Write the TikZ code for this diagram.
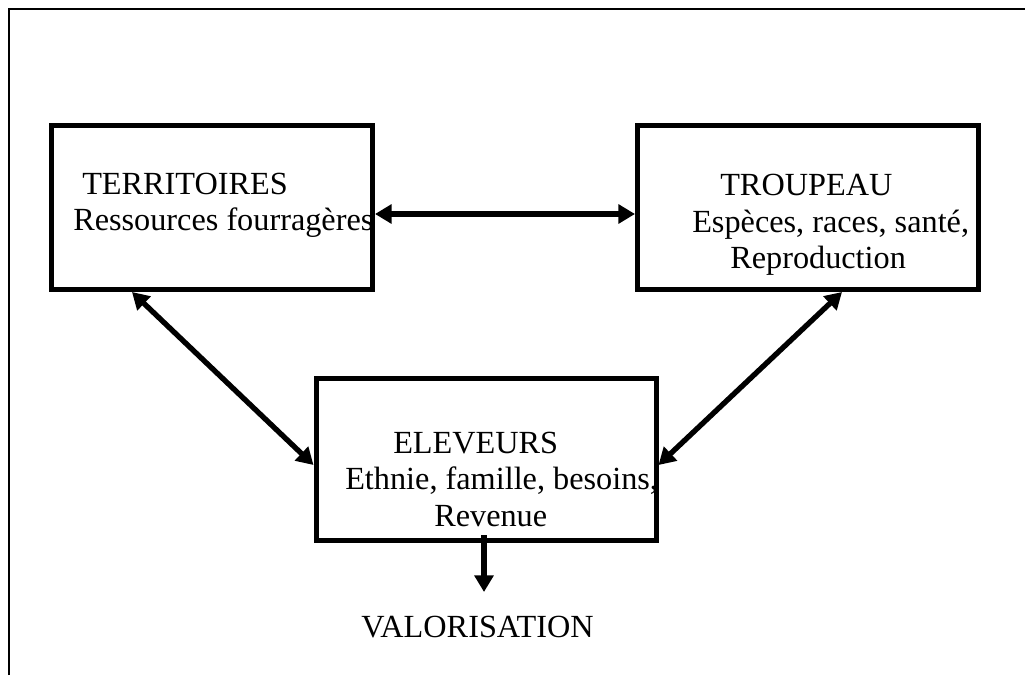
\documentclass[tikz,border=0pt]{standalone}
\usepackage{fontspec}
\setmainfont{Liberation Serif}
\usetikzlibrary{arrows.meta,calc}
\begin{document}
\begin{tikzpicture}[x=0.75pt,y=-0.75pt,
  box/.style={draw,line width=3.75pt,rectangle,inner sep=0pt},
  lbl/.style={anchor=base west,inner sep=0pt,font=\fontsize{24.2}{29}\selectfont},
  link/.style={line width=4pt,-{Triangle[length=12.5pt,width=14pt]}},
  dlink/.style={line width=4pt,{Triangle[length=12.5pt,width=14pt]}-{Triangle[length=12.5pt,width=14pt]}}]
\useasboundingbox (0,0) rectangle (1025,675);
% frame
\draw[line width=1.2pt] (9,675) -- (9,9) -- (1025,9);
% boxes
\node[box,minimum width=240.75pt,minimum height=123pt] (terr) at (212,207.5) {};
\node[box,minimum width=255.75pt,minimum height=123pt] (troup) at (808,207.5) {};
\node[box,minimum width=255pt,minimum height=121.5pt] (elev) at (486,459.5) {};
% texts
\node[lbl] (ta) at (82,194) {TERRITOIRES};
\node[lbl] (tb) at (73,230) {Ressources fourragères};
\node[lbl] (ra) at (720,195) {TROUPEAU};
\node[lbl] (rb) at (692,232) {Espèces, races, santé,};
\node[lbl] (rc) at (730,268) {Reproduction};
\node[lbl] (ea) at (393,453) {ELEVEURS};
\node[lbl] (eb) at (345,489) {Ethnie, famille, besoins,};
\node[lbl] (ec) at (434,526) {Revenue};
\node[lbl] (val) at (361,637) {VALORISATION};
% connectors
\draw[dlink] ($(terr.east)+(0,6.5)$) -- ($(troup.west)+(0,6.5)$);
\draw[dlink] ($(terr.south west)+(83,0)$) -- ($(elev.west)+(0,5.5)$);
\draw[dlink] ($(troup.south west)+(207,0)$) -- ($(elev.east)+(0,5.5)$);
\coordinate (vtip) at (484,592);
\draw[link] ($(elev.south)+(-2,-8)$) -- (vtip);
\end{tikzpicture}
\end{document}
